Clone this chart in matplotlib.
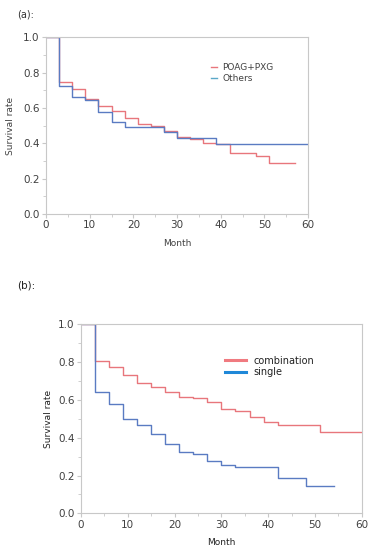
import numpy as np
import matplotlib
matplotlib.use("Agg")
from matplotlib import pyplot as plt
from matplotlib.ticker import MultipleLocator

# (a) POAG+PXG vs Others
t_poag = [0, 3, 6, 9, 12, 15, 18, 21, 24, 27, 30, 33, 36, 39, 42, 48, 51, 57]
s_poag = [1.0, 0.75, 0.71, 0.65, 0.61, 0.585, 0.543, 0.51, 0.498, 0.47, 0.438, 0.427, 0.40, 0.395, 0.348, 0.328, 0.29, 0.29]
t_oth = [0, 3, 6, 9, 12, 15, 18, 27, 30, 33, 39, 60]
s_oth = [1.0, 0.722, 0.664, 0.643, 0.58, 0.523, 0.494, 0.462, 0.432, 0.43, 0.395, 0.395]

# (b) combination vs single
t_comb = [0, 3, 6, 9, 12, 15, 18, 21, 24, 27, 30, 33, 36, 39, 42, 51, 60]
s_comb = [1.0, 0.804, 0.772, 0.730, 0.688, 0.667, 0.642, 0.617, 0.608, 0.591, 0.554, 0.540, 0.511, 0.485, 0.469, 0.430, 0.430]
t_single = [0, 3, 6, 9, 12, 15, 18, 21, 24, 27, 30, 33, 42, 48, 54]
s_single = [1.0, 0.644, 0.577, 0.501, 0.467, 0.421, 0.365, 0.326, 0.314, 0.279, 0.256, 0.243, 0.187, 0.147, 0.147]

red = '#e8767c'
blue = '#5a7bc2'
spine = '#c8c8c8'
txt = '#404040'

fig = plt.figure(figsize=(3.75, 5.5), dpi=100)


def style(ax):
    ax.set_xlim(0, 60)
    ax.set_ylim(0, 1.0)
    ax.xaxis.set_major_locator(MultipleLocator(10))
    ax.xaxis.set_minor_locator(MultipleLocator(5))
    ax.yaxis.set_major_locator(MultipleLocator(0.2))
    ax.yaxis.set_minor_locator(MultipleLocator(0.1))
    ax.yaxis.set_major_formatter(plt.FormatStrFormatter('%.1f'))
    for s in ax.spines.values():
        s.set_color(spine)
        s.set_linewidth(0.8)
    ax.tick_params(which='both', direction='out', colors=spine, labelcolor=txt, labelsize=7.5)
    ax.tick_params(which='major', length=3, width=0.8)
    ax.tick_params(which='minor', length=2, width=0.6)
    ax.tick_params(axis='both', pad=1.5)


# panel (a)
ax1 = fig.add_axes([0.1227, 0.611, 0.699, 0.321])
ax1.step(t_poag, s_poag, where='post', color=red, lw=1.0)
ax1.step(t_oth, s_oth, where='post', color=blue, lw=1.0)
style(ax1)
ax1.set_xlabel('Month', fontsize=6.5, color=txt, labelpad=6)
ax1.set_ylabel('Survival rate', fontsize=6.5, color=txt, labelpad=6)
h1 = [plt.Line2D([], [], color=red, lw=1.0), plt.Line2D([], [], color='#5ba8c8', lw=1.0)]
ax1.legend(h1, ['POAG+PXG', 'Others'], loc='upper left', bbox_to_anchor=(0.6, 0.9),
           frameon=False, fontsize=6.5, handlelength=0.6, handletextpad=0.6,
           labelspacing=0.2, labelcolor=txt)
fig.text(0.045, 0.973, '(a):', fontsize=7, color='#333333', va='center')

# panel (b)
ax2 = fig.add_axes([0.216, 0.0667, 0.749, 0.3437])
ax2.step(t_comb, s_comb, where='post', color=red, lw=1.0)
ax2.step(t_single, s_single, where='post', color=blue, lw=1.0)
style(ax2)
ax2.set_xlabel('Month', fontsize=6.5, color='#222222', labelpad=6)
ax2.set_ylabel('Survival rate', fontsize=6.5, color='#222222', labelpad=4)
h2 = [plt.Line2D([], [], color='#f07a80', lw=2.2), plt.Line2D([], [], color='#1f88d8', lw=2.2)]
ax2.legend(h2, ['combination', 'single'], loc='upper left', bbox_to_anchor=(0.48, 0.88),
           frameon=False, fontsize=7, handlelength=2.2, handletextpad=0.8,
           labelspacing=0.15, labelcolor='#222222')
fig.text(0.045, 0.48, '(b):', fontsize=7.5, color='#222222', va='center')

fig.savefig('out.png', dpi=100, facecolor='white')
